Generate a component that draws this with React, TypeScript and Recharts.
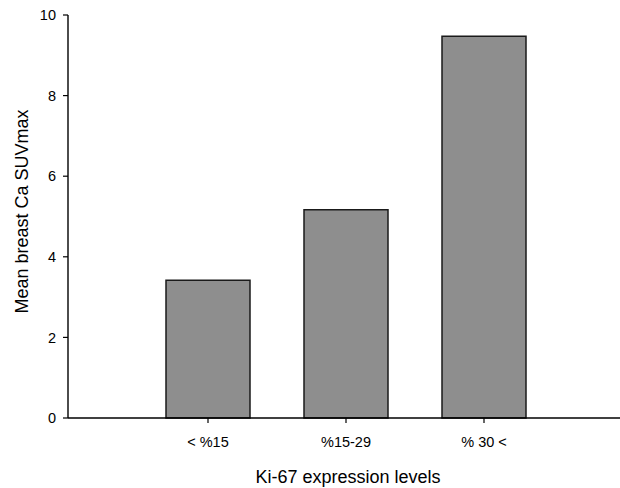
import React from "react";
import { BarChart, Bar, XAxis, YAxis, Label } from "recharts";

const categories = ["< %15", "%15-29", "% 30 <"];
const meanSuvMax = [3.42, 5.17, 9.47];
const yTicks = [0, 2, 4, 6, 8, 10];

const data = categories.map((c, i) => ({ name: c, value: meanSuvMax[i] }));

const FONT = "'Liberation Sans', Arial, sans-serif";

export default function App() {
  return (
    <div style={{ position: "absolute", left: 0, top: 0, width: 620, height: 488, background: "#fff" }}>
      <BarChart
        width={620}
        height={488}
        data={data}
        margin={{ top: 15, right: 0, bottom: 0, left: 0 }}
        style={{ fontFamily: FONT }}
      >
        <XAxis
          dataKey="name"
          height={70}
          padding={{ left: 71, right: 67 }}
          axisLine={{ stroke: "#000", strokeWidth: 1.6 }}
          tickLine={{ stroke: "#000", strokeWidth: 1.2 }}
          tickSize={5}
          tickMargin={14}
          tick={{ fill: "#000", fontSize: 14.5, fontFamily: FONT }}
          interval={0}
        >
          <Label
            value="Ki-67 expression levels"
            position="insideBottom"
            offset={5}
            dx={4}
            style={{ fill: "#000", fontSize: 18, fontFamily: FONT }}
          />
        </XAxis>
        <YAxis
          width={68}
          domain={[0, 10]}
          ticks={yTicks}
          axisLine={{ stroke: "#000", strokeWidth: 1.4 }}
          tickLine={{ stroke: "#000", strokeWidth: 1.2 }}
          tickSize={5}
          tickMargin={7}
          tick={{ fill: "#000", fontSize: 14.5, fontFamily: FONT }}
        >
          <Label
            content={(props: any) => {
              const vb = props.viewBox || { x: 0, y: 15, width: 68, height: 403 };
              const cx = 28;
              const cy = vb.y + vb.height / 2 - 5;
              return (
                <text
                  x={cx}
                  y={cy}
                  transform={`rotate(-90, ${cx}, ${cy})`}
                  textAnchor="middle"
                  style={{ fill: "#000", fontSize: 18, fontFamily: FONT }}
                >
                  Mean breast Ca SUVmax
                </text>
              );
            }}
          />
        </YAxis>
        <Bar
          dataKey="value"
          barSize={84}
          fill="#8e8e8e"
          stroke="#1a1a1a"
          strokeWidth={1.5}
          isAnimationActive={false}
        />
      </BarChart>
    </div>
  );
}
